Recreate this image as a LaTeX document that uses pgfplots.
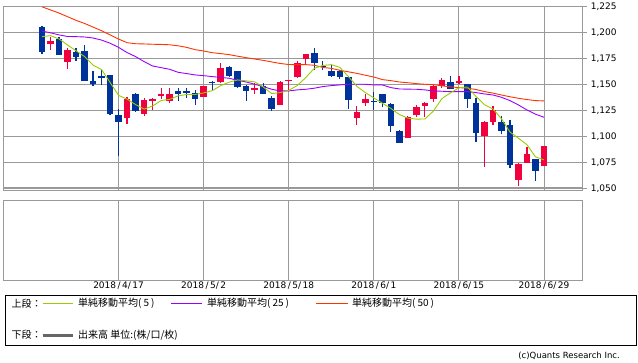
\documentclass[border=0pt]{standalone}
\usepackage{pgfplots}
\pgfplotsset{compat=1.18}
\usepackage{pgfplotstable}
\usepackage{fontspec}
\setmainfont{DejaVu Sans}
\newfontfamily\jp{Noto Sans CJK JP}
\definecolor{upc}{HTML}{F0003C}
\definecolor{dnc}{HTML}{003399}
\definecolor{maA}{HTML}{99CC00}
\definecolor{maB}{HTML}{9900FF}
\definecolor{maC}{HTML}{FF3300}
\definecolor{gridc}{HTML}{999999}

\pgfplotstableread{
i o h l c
1 1188.8 1195.8 1183.3 1191.7
3 1171.8 1185.3 1164.7 1183.0
10 1118.0 1138.0 1112.0 1135.6
12 1121.5 1136.9 1119.9 1135.0
13 1134.3 1137.2 1125.3 1136.2
14 1138.5 1146.5 1135.6 1141.0
15 1134.0 1146.0 1132.4 1141.0
19 1138.1 1148.8 1137.6 1148.4
21 1152.6 1170.8 1151.6 1165.7
25 1144.9 1151.0 1141.0 1146.5
28 1130.4 1153.2 1130.2 1152.2
29 1153.2 1154.5 1143.3 1154.2
30 1156.7 1172.4 1155.8 1170.2
31 1174.4 1179.4 1169.2 1179.2
37 1118.0 1129.2 1111.3 1123.4
38 1132.4 1140.7 1129.5 1135.9
43 1098.7 1119.2 1098.5 1118.6
44 1120.5 1130.2 1118.9 1127.9
45 1129.2 1133.3 1118.9 1132.4
46 1136.2 1150.0 1133.3 1148.4
47 1148.7 1155.8 1146.2 1153.8
49 1151.6 1158.0 1150.0 1152.6
52 1100.6 1114.7 1070.8 1113.8
53 1114.1 1129.2 1111.3 1125.3
56 1058.0 1074.7 1052.6 1073.4
57 1074.7 1090.0 1074.5 1083.0
59 1071.8 1091.0 1071.5 1090.7
}\upT

\pgfplotstableread{
i o h l c
0 1205.4 1206.4 1179.5 1181.4
2 1193.6 1195.8 1178.0 1178.5
4 1181.0 1185.3 1172.8 1176.6
5 1182.0 1187.8 1153.0 1153.5
6 1153.2 1163.0 1148.7 1150.6
7 1158.0 1164.0 1149.0 1156.7
8 1159.0 1159.3 1120.5 1121.5
9 1120.2 1126.0 1081.0 1114.1
11 1140.7 1141.7 1123.4 1124.4
16 1143.9 1146.8 1134.0 1141.0
17 1143.9 1146.0 1136.5 1142.0
18 1142.0 1144.6 1130.4 1136.2
20 1152.2 1153.2 1143.6 1151.3
22 1166.7 1167.6 1157.4 1158.3
23 1162.8 1163.0 1146.5 1147.4
24 1148.4 1149.4 1134.3 1143.6
26 1148.0 1151.3 1140.7 1141.0
27 1136.9 1138.8 1124.7 1126.6
32 1180.1 1185.0 1163.8 1170.8
33 1168.0 1172.4 1163.8 1166.3
34 1162.8 1168.6 1156.7 1158.0
35 1162.8 1163.8 1155.4 1157.4
36 1156.7 1157.0 1126.3 1135.3
39 1134.3 1142.6 1125.3 1132.7
40 1140.7 1141.0 1127.9 1131.7
41 1131.4 1131.7 1104.5 1110.3
42 1105.1 1106.0 1093.6 1093.9
48 1152.2 1158.0 1145.6 1145.8
50 1150.0 1150.2 1127.6 1136.2
51 1131.7 1137.2 1094.9 1103.5
54 1113.8 1119.6 1102.6 1105.4
55 1110.9 1115.7 1069.9 1072.4
58 1078.2 1078.5 1057.4 1067.0
}\dnT

\pgfplotstableread{
i ma5 ma25 ma50
0 1195.8 1201.2 1224.5
1 1196.8 1199.5 1221.5
2 1193.6 1197.5 1218.5
3 1187.8 1196.0 1215.0
4 1182.2 1195.8 1211.5
5 1176.7 1195.5 1208.5
6 1168.4 1194.5 1205.0
7 1164.1 1192.5 1201.5
8 1151.8 1189.5 1197.5
9 1139.3 1185.5 1193.5
10 1135.7 1180.5 1190.0
11 1130.5 1176.6 1189.0
12 1126.1 1171.8 1188.8
13 1129.1 1167.6 1188.5
14 1134.4 1166.0 1188.3
15 1135.5 1164.4 1188.0
16 1138.8 1161.5 1187.0
17 1140.2 1160.3 1185.5
18 1140.2 1159.0 1183.3
19 1141.7 1158.3 1182.0
20 1143.8 1157.4 1180.4
21 1148.7 1156.6 1179.5
22 1152.0 1155.8 1178.5
23 1154.2 1153.8 1177.0
24 1153.3 1152.2 1175.6
25 1152.3 1150.0 1174.3
26 1147.4 1147.8 1173.0
27 1141.0 1145.2 1171.5
28 1142.0 1143.6 1170.0
29 1144.1 1143.6 1169.0
30 1148.8 1144.6 1168.9
31 1156.5 1145.2 1168.9
32 1165.3 1146.2 1168.3
33 1168.1 1147.8 1166.2
34 1168.9 1148.7 1165.3
35 1166.3 1149.4 1163.5
36 1157.6 1150.0 1162.0
37 1148.1 1150.0 1160.5
38 1142.0 1150.0 1158.7
39 1136.9 1149.4 1157.0
40 1131.8 1149.4 1154.5
41 1126.8 1146.8 1153.5
42 1120.9 1145.5 1152.2
43 1117.4 1145.3 1151.5
44 1116.5 1145.2 1150.6
45 1116.6 1144.6 1150.0
46 1124.2 1143.6 1149.7
47 1136.2 1143.3 1148.5
48 1141.7 1142.9 1147.5
49 1146.6 1143.0 1146.8
50 1147.4 1143.0 1146.2
51 1138.4 1142.0 1145.0
52 1130.4 1140.7 1143.0
53 1126.3 1139.7 1141.5
54 1116.8 1137.5 1139.7
55 1104.1 1134.3 1138.0
56 1098.1 1130.1 1136.5
57 1091.9 1125.3 1135.3
58 1080.2 1121.2 1134.3
59 1077.3 1118.3 1134.0
}\maT

\begin{document}
\begin{tikzpicture}
\path[use as bounding box] (0pt,0pt) rectangle (638pt,-362pt);
\begin{axis}[
  at={(3.3pt,-190pt)}, anchor=south west, scale only axis,
  width=579.4pt, height=183.7pt,
  xmin=-4.55, xmax=63.55, ymin=1048.3, ymax=1225,
  xtick={9,19,29,39,49,59}, xticklabels={},
  ytick={1050,1075,...,1225},
  xmajorgrids, ymajorgrids,
  grid style={gridc, line width=0.9pt},
  axis line style={gridc, line width=0.9pt},
  xtick style={draw=none},
  ytick pos=right, yticklabel pos=right,
  ytick style={gridc, line width=0.9pt},
  major tick length=4pt, tick align=outside,
  yticklabel style={font=\fontsize{9}{10}\selectfont, anchor=west, inner sep=0pt, xshift=4pt},
  /pgf/number format/assume math mode=true,
  /pgf/number format/1000 sep={,},
]
% wicks
\addplot[draw=none, mark=none, forget plot, error bars/.cd, y dir=both, y explicit, error mark=none,
  error bar style={draw=dnc, solid, line width=1.2pt}]
  table[x=i, y expr={(\thisrow{h}+\thisrow{l})/2}, y error expr={(\thisrow{h}-\thisrow{l})/2}] {\dnT};
\addplot[draw=none, mark=none, forget plot, error bars/.cd, y dir=both, y explicit, error mark=none,
  error bar style={draw=upc, solid, line width=1.2pt}]
  table[x=i, y expr={(\thisrow{h}+\thisrow{l})/2}, y error expr={(\thisrow{h}-\thisrow{l})/2}] {\upT};
% bodies
\addplot[draw=none, mark=none, forget plot, error bars/.cd, y dir=both, y explicit, error mark=none,
  error bar style={draw=dnc, solid, line width=6.5pt}]
  table[x=i, y expr={(\thisrow{o}+\thisrow{c})/2}, y error expr={max(abs(\thisrow{o}-\thisrow{c})/2,0.6)}] {\dnT};
\addplot[draw=none, mark=none, forget plot, error bars/.cd, y dir=both, y explicit, error mark=none,
  error bar style={draw=upc, solid, line width=6.5pt}]
  table[x=i, y expr={(\thisrow{o}+\thisrow{c})/2}, y error expr={max(abs(\thisrow{o}-\thisrow{c})/2,0.6)}] {\upT};
% moving averages
\addplot[maC, line width=0.9pt, mark=none] table[x=i, y=ma50] {\maT};
\addplot[maB, line width=0.9pt, mark=none] table[x=i, y=ma25] {\maT};
\addplot[maA, line width=0.9pt, mark=none] table[x=i, y=ma5] {\maT};
\end{axis}
\draw[gridc, line width=0.9pt] (3.3pt,-187.3pt) -- (582.7pt,-187.3pt);

\begin{axis}[
  at={(3.3pt,-280pt)}, anchor=south west, scale only axis,
  width=579.4pt, height=79.3pt,
  xmin=-4.55, xmax=63.55, ymin=0, ymax=1,
  xtick={9,19,29,39,49,59},
  xticklabels={2018\,/\,4/\,17, 2018\,/\,5/\,2, 2018\,/\,5/\,18, 2018\,/\,6/\,1, 2018\,/\,6/\,15, 2018\,/\,6/\,29},
  ytick=\empty,
  xmajorgrids,
  grid style={gridc, line width=0.9pt},
  axis line style={gridc, line width=0.9pt},
  xtick style={draw=none},
  xticklabel style={font=\fontsize{9}{10}\selectfont, inner sep=0pt, anchor=north, yshift=-2pt},
]
\addplot[draw=none, forget plot] coordinates {(0,0.5)};
\end{axis}

\draw[black, line width=1pt] (5pt,-295pt) rectangle (636pt,-345pt);
\node[anchor=west, inner sep=0pt] at (11.5pt,-303.5pt) {\jp\fontsize{10}{12}\selectfont 上段：};
\draw[maA, line width=1pt] (42.7pt,-303.5pt) -- (73.3pt,-303.5pt);
\node[anchor=west, inner sep=0pt] at (78pt,-303.5pt) {\jp\fontsize{10}{12}\selectfont 単純移動平均(\kern2pt 5\kern2pt)};
\draw[maB, line width=1pt] (171pt,-303.5pt) -- (202pt,-303.5pt);
\node[anchor=west, inner sep=0pt] at (207pt,-303.5pt) {\jp\fontsize{10}{12}\selectfont 単純移動平均(\kern2pt 25\kern2pt)};
\draw[maC, line width=1pt] (316pt,-303.5pt) -- (348pt,-303.5pt);
\node[anchor=west, inner sep=0pt] at (352pt,-303.5pt) {\jp\fontsize{10}{12}\selectfont 単純移動平均(\kern2pt 50\kern2pt)};
\node[anchor=west, inner sep=0pt] at (11.5pt,-335pt) {\jp\fontsize{10}{12}\selectfont 下段：};
\draw[black!60, line width=3pt] (42.7pt,-335pt) -- (73.3pt,-335pt);
\node[anchor=west, inner sep=0pt] at (78pt,-335pt) {\jp\fontsize{10}{12}\selectfont 出来高 単位:(株/口/枚)};
\node[anchor=east, inner sep=0pt] at (620pt,-356pt) {\fontsize{8.5}{10}\selectfont (c)Quants Research Inc.};
\end{tikzpicture}
\end{document}
